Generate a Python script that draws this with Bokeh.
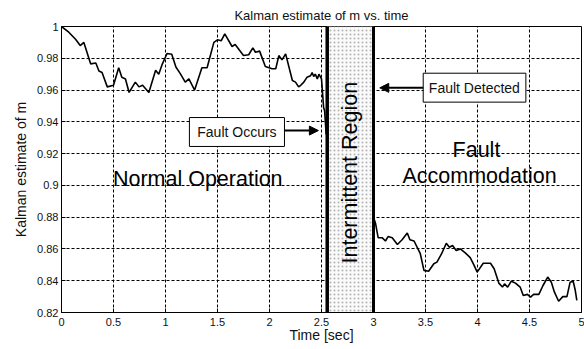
from bokeh.plotting import figure
from bokeh.models import (FixedTicker, CustomJSTickFormatter, Span, Label, Arrow,
                          NormalHead, BoxAnnotation)
from bokeh.embed import file_html
from bokeh.resources import INLINE

# ---- data ----
t_normal = [0.0, 0.07, 0.135, 0.18, 0.215, 0.28, 0.33, 0.36, 0.39, 0.44, 0.50, 0.55, 0.58,
            0.615, 0.65, 0.71, 0.745, 0.78, 0.84, 0.905, 0.935, 0.97, 1.015, 1.06, 1.10,
            1.145, 1.19, 1.225, 1.28, 1.35, 1.40, 1.465, 1.50, 1.535, 1.57, 1.64, 1.67,
            1.75, 1.80, 1.84, 1.865, 1.905, 1.96, 2.025, 2.06, 2.09, 2.12, 2.155, 2.22,
            2.25, 2.28, 2.30, 2.33, 2.36, 2.395, 2.41, 2.425, 2.44, 2.46, 2.475, 2.50,
            2.51, 2.52, 2.53, 2.545]
m_normal = [1.0, 0.9964, 0.992, 0.988, 0.990, 0.9765, 0.977, 0.972, 0.971, 0.962, 0.963,
            0.974, 0.968, 0.967, 0.9585, 0.965, 0.962, 0.963, 0.9585, 0.9725, 0.970, 0.9765,
            0.983, 0.9825, 0.9745, 0.970, 0.965, 0.967, 0.960, 0.974, 0.974, 0.990, 0.9916,
            0.991, 0.9954, 0.9874, 0.9887, 0.9817, 0.9822, 0.9866, 0.9838, 0.9845, 0.9748,
            0.9734, 0.9734, 0.9817, 0.979, 0.9828, 0.966, 0.965, 0.962, 0.963, 0.965, 0.968,
            0.969, 0.971, 0.9685, 0.970, 0.967, 0.970, 0.967, 0.9585, 0.949, 0.947, 0.932]

t_accom = [3.005, 3.02, 3.045, 3.085, 3.115, 3.14, 3.18, 3.23, 3.275, 3.325, 3.35, 3.39,
           3.45, 3.485, 3.53, 3.58, 3.61, 3.655, 3.70, 3.73, 3.76, 3.795, 3.835, 3.885,
           3.93, 3.965, 3.997, 4.055, 4.125, 4.16, 4.205, 4.24, 4.26, 4.29, 4.325, 4.365,
           4.41, 4.44, 4.48, 4.51, 4.54, 4.59, 4.63, 4.675, 4.71, 4.74, 4.78, 4.82, 4.86,
           4.89, 4.92, 4.94, 4.955]
m_accom = [0.879, 0.876, 0.867, 0.867, 0.865, 0.8678, 0.867, 0.8628, 0.8658, 0.870, 0.8658,
           0.865, 0.857, 0.8465, 0.846, 0.8507, 0.8517, 0.857, 0.8636, 0.8611, 0.8622,
           0.859, 0.860, 0.8574, 0.8545, 0.850, 0.8454, 0.851, 0.851, 0.8475, 0.8385, 0.836,
           0.838, 0.836, 0.8397, 0.8385, 0.836, 0.8307, 0.8314, 0.8297, 0.8314, 0.8314,
           0.837, 0.8423, 0.839, 0.8328, 0.8271, 0.830, 0.830, 0.839, 0.8397, 0.834, 0.8276]

fault_time = 2.555
detect_time = 3.0

x_ticks = [0, 0.5, 1, 1.5, 2, 2.5, 3, 3.5, 4, 4.5, 5]
y_ticks = [0.82, 0.84, 0.86, 0.88, 0.9, 0.92, 0.94, 0.96, 0.98, 1.0]

FONT = "Liberation Sans"
TXT = "#111111"

p = figure(width=584, height=349, x_range=(0, 5), y_range=(0.82, 1.0),
           output_backend="svg", toolbar_location=None,
           title="Kalman estimate of m vs. time",
           min_border_left=61, min_border_right=3, min_border_top=26, min_border_bottom=37)

p.title.align = "center"
p.title.text_font = FONT
p.title.text_font_size = "13px"
p.title.text_font_style = "normal"
p.title.text_color = TXT
p.title.standoff = 8

fmt = CustomJSTickFormatter(code="return String(Math.round(tick*100)/100);")
p.xaxis.ticker = FixedTicker(ticks=x_ticks)
p.yaxis.ticker = FixedTicker(ticks=y_ticks)
p.xaxis.formatter = fmt
p.yaxis.formatter = fmt
for ax in (p.xaxis, p.yaxis):
    ax.major_tick_in = 4
    ax.major_tick_out = 0
    ax.minor_tick_line_color = None
    ax.axis_line_color = "black"
    ax.major_tick_line_color = "black"
    ax.major_label_text_font = FONT
    ax.major_label_text_font_size = "11px"
    ax.major_label_text_color = TXT
    ax.axis_label_text_font = FONT
    ax.axis_label_text_font_size = "14px"
    ax.axis_label_text_font_style = "normal"
    ax.axis_label_text_color = TXT
p.xaxis.axis_label = "Time [sec]"
p.yaxis.axis_label = "Kalman estimate of m"
p.xaxis.major_label_standoff = 5
p.yaxis.major_label_standoff = 3
p.xaxis.axis_label_standoff = -2
p.yaxis.axis_label_standoff = 5

p.grid.grid_line_color = "black"
p.grid.grid_line_dash = "3 2"
p.grid.grid_line_width = 1
p.outline_line_color = "black"
p.outline_line_width = 1
p.background_fill_color = "white"
p.border_fill_color = "white"

p.line(t_normal, m_normal, line_color="black", line_width=1.6)
p.line(t_accom, m_accom, line_color="black", line_width=1.6)

# intermittent region
p.quad(left=[fault_time], right=[detect_time], bottom=[0.82], top=[1.0],
       fill_color="#fafafa", line_color=None,
       hatch_pattern="dot", hatch_color="#b4b4b4", hatch_scale=4, hatch_weight=1)
p.add_layout(Span(location=fault_time, dimension="height", line_color="black", line_width=3.5))
p.add_layout(Span(location=detect_time, dimension="height", line_color="black", line_width=3))

# big region labels
big = dict(text_font=FONT, text_font_size="21.5px", text_color="black", text_align="center")
p.add_layout(Label(x=1.31, y=0.9043, text="Normal Operation", text_baseline="alphabetic", **big))
p.add_layout(Label(x=3.99, y=0.922, text="Fault", text_baseline="alphabetic", **big))
p.add_layout(Label(x=4.02, y=0.9062, text="Accommodation", text_baseline="alphabetic", **big))
p.add_layout(Label(x=(fault_time + detect_time) / 2, y=0.908, text="Intermittent Region",
                   angle=1.5707963, text_baseline="middle", **big))

# callout boxes
p.add_layout(BoxAnnotation(left=1.23, right=2.144, bottom=0.9245, top=0.9427,
                           fill_color="white", fill_alpha=1, line_color="black",
                           line_width=1, line_alpha=1))
p.add_layout(Label(x=1.687, y=0.9336, text="Fault Occurs", text_align="center",
                   text_baseline="middle", text_font=FONT, text_font_size="14px",
                   text_color=TXT))
p.add_layout(Arrow(end=NormalHead(size=9, fill_color="black", line_color="black"),
                   x_start=2.144, y_start=0.9345, x_end=2.47, y_end=0.9345,
                   line_color="black", line_width=2))

p.add_layout(BoxAnnotation(left=3.478, right=4.465, bottom=0.9524, top=0.9706,
                           fill_color="white", fill_alpha=1, line_color="black",
                           line_width=1, line_alpha=1))
p.add_layout(Label(x=3.97, y=0.9616, text="Fault Detected", text_align="center",
                   text_baseline="middle", text_font=FONT, text_font_size="14px",
                   text_color=TXT))
p.add_layout(Arrow(end=NormalHead(size=9, fill_color="black", line_color="black"),
                   x_start=3.478, y_start=0.9614, x_end=3.06, y_end=0.9614,
                   line_color="black", line_width=2))

open("out.html", "w").write(file_html(p, INLINE))
